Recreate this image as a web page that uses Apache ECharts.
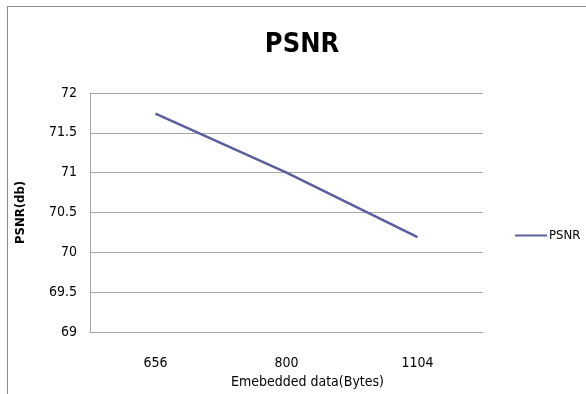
<!DOCTYPE html>
<html>
<head>
<meta charset="utf-8">
<script src="https://cdn.jsdelivr.net/npm/echarts@6/dist/echarts.min.js"></script>
<style>
html,body{margin:0;padding:0;background:#fff;overflow:hidden;}
#frame{position:absolute;left:7px;top:6px;width:700px;height:500px;border:1px solid #8c8c8c;box-sizing:border-box;}
#chart{position:absolute;left:0;top:0;width:586px;height:394px;}
</style>
</head>
<body>
<div id="frame"></div>
<div id="chart"></div>
<script>
const categories = ['656', '800', '1104'];
const psnrValues = [71.74, 71.0, 70.19];
const seriesName = 'PSNR';
const titleText = 'PSNR';
const xAxisName = 'Emebedded data(Bytes)';
const yAxisName = 'PSNR(db)';

const font = '"DejaVu Sans Condensed", "Liberation Sans Narrow", "Arial Narrow", sans-serif';
const el = document.getElementById('chart');
const chart = echarts.init(el, null, {renderer: 'canvas', width: 586, height: 394});
chart.setOption({
  backgroundColor: 'transparent',
  animation: false,
  title: {
    text: titleText,
    left: 297, top: 26,
    textAlign: 'center',
    textStyle: {fontFamily: font, fontWeight: 'bold', fontSize: 27, color: '#000'}
  },
  legend: {
    data: [seriesName],
    left: 510, top: 224,
    itemWidth: 32, itemHeight: 14, itemGap: 2,
    icon: 'path://M0,6 L32,6 L32,8 L0,8 Z',
    textStyle: {fontFamily: font, fontSize: 13, color: '#000', padding: [0,0,0,-3]}
  },
  grid: {left: 90, width: 393, top: 93, height: 244},
  xAxis: {
    type: 'category',
    data: categories,
    boundaryGap: true,
    name: xAxisName,
    nameLocation: 'middle',
    nameGap: 43,
    nameTextStyle: {fontFamily: font, fontSize: 14, color: '#000', padding: [0,0,0,42]},
    axisLine: {lineStyle: {color: '#a6a6a6'}},
    axisTick: {show: false},
    axisLabel: {fontFamily: font, fontSize: 14, color: '#000', margin: 24}
  },
  yAxis: {
    type: 'value',
    min: 69, max: 72, interval: 0.5,
    name: yAxisName,
    nameLocation: 'middle',
    nameGap: 63,
    nameTextStyle: {fontFamily: font, fontSize: 13, fontWeight: 'bold', color: '#000'},
    axisLine: {show: true, lineStyle: {color: '#a6a6a6'}},
    axisTick: {show: false},
    axisLabel: {fontFamily: font, fontSize: 14, color: '#000', margin: 13},
    splitLine: {lineStyle: {color: '#a6a6a6'}}
  },
  series: [{
    name: seriesName,
    type: 'line',
    data: psnrValues,
    showSymbol: false,
    symbol: 'none',
    lineStyle: {color: '#5a5e9e', width: 2.5},
    itemStyle: {color: '#5a5e9e'}
  }]
});
</script>
</body>
</html>
